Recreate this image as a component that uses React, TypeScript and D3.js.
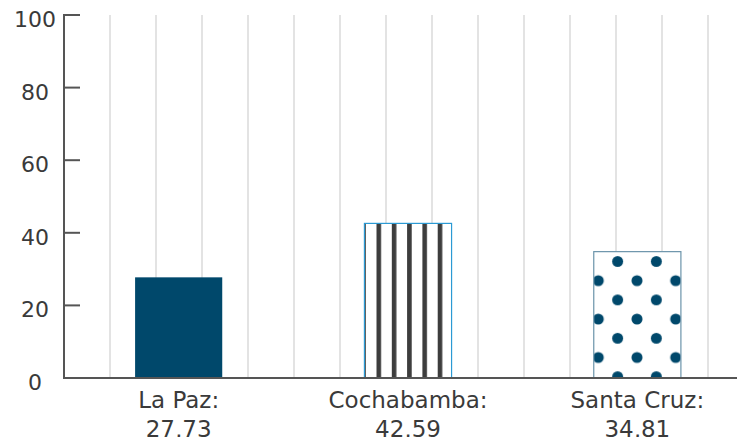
import * as d3 from 'd3'

const categories = ['La Paz', 'Cochabamba', 'Santa Cruz']
const values = [27.73, 42.59, 34.81]
const yTicks = [0, 20, 40, 60, 80, 100]
const gridSteps = d3.range(1, 15)

const W = 745
const H = 445
const margin = { top: 15, right: 0, bottom: 67, left: 64 }
const FONT = '"DejaVu Sans", sans-serif'
const esLocale = d3.formatLocale({ decimal: ',', thousands: '.', grouping: [3], currency: ['', ''] })
const fmt = esLocale.format('.2f')

export default function App() {
  const x = d3.scaleBand<string>()
    .domain(categories)
    .range([margin.left, 752])
    .paddingInner(0.62)
    .paddingOuter(0.31)
  const y = d3.scaleLinear().domain([0, 100]).range([H - margin.bottom, margin.top])
  const gx = d3.scaleLinear().domain([0, 15]).range([margin.left, margin.left + 690])

  const fills = ['#00486b', 'url(#stripes)', 'url(#dots)']
  const strokes = ['none', '#2b9ad4', '#6b94aa']

  return (
    <div style={{ margin: -8 }}>
      <svg width={W} height={H} style={{ display: 'block' }} fontFamily={FONT}>
        <defs>
          <pattern id="stripes" patternUnits="userSpaceOnUse" width={15.3} height={20} x={376.5}>
            <rect width={15.3} height={20} fill="#fff" />
            <rect x={0} width={4.6} height={20} fill="#3d3d3d" />
          </pattern>
          <pattern id="dots" patternUnits="userSpaceOnUse" width={38.7} height={38.4} x={598.3} y={280.7}>
            <rect width={38.7} height={38.4} fill="#fff" />
            <circle cx={0} cy={0} r={5.5} fill="#00486b" />
            <circle cx={38.7} cy={0} r={5.5} fill="#00486b" />
            <circle cx={0} cy={38.4} r={5.5} fill="#00486b" />
            <circle cx={38.7} cy={38.4} r={5.5} fill="#00486b" />
            <circle cx={19.35} cy={19.2} r={5.5} fill="#00486b" />
          </pattern>
        </defs>

        {gridSteps.map(s => (
          <line key={s} x1={gx(s)} x2={gx(s)} y1={y(100)} y2={y(0)} stroke="#e3e3e3" strokeWidth={2} />
        ))}

        {categories.map((c, i) => (
          <rect
            key={c}
            x={x(c)!}
            y={y(values[i])}
            width={x.bandwidth()}
            height={y(0) - y(values[i])}
            fill={fills[i]}
            stroke={strokes[i]}
            strokeWidth={1.2}
          />
        ))}

        <line x1={margin.left - 1} x2={W} y1={y(0)} y2={y(0)} stroke="#555" strokeWidth={2} />
        <line x1={margin.left} x2={margin.left} y1={y(100) - 1} y2={y(0) + 1} stroke="#555" strokeWidth={2} />

        {yTicks.map(t => (
          <g key={t}>
            <line x1={margin.left} x2={margin.left + 16} y1={y(t)} y2={y(t)} stroke="#555" strokeWidth={2} />
            <text x={35} y={y(t) + 12} textAnchor="middle" fontSize={22} fill="#3a3a3a">{t}</text>
          </g>
        ))}

        {categories.map((c, i) => (
          <text key={c} textAnchor="middle" fontSize={23} fill="#3a3a3a">
            <tspan x={x(c)! + x.bandwidth() / 2} y={408}>{c}:</tspan>
            <tspan x={x(c)! + x.bandwidth() / 2} y={437}>{fmt(values[i])}</tspan>
          </text>
        ))}
      </svg>
    </div>
  )
}
